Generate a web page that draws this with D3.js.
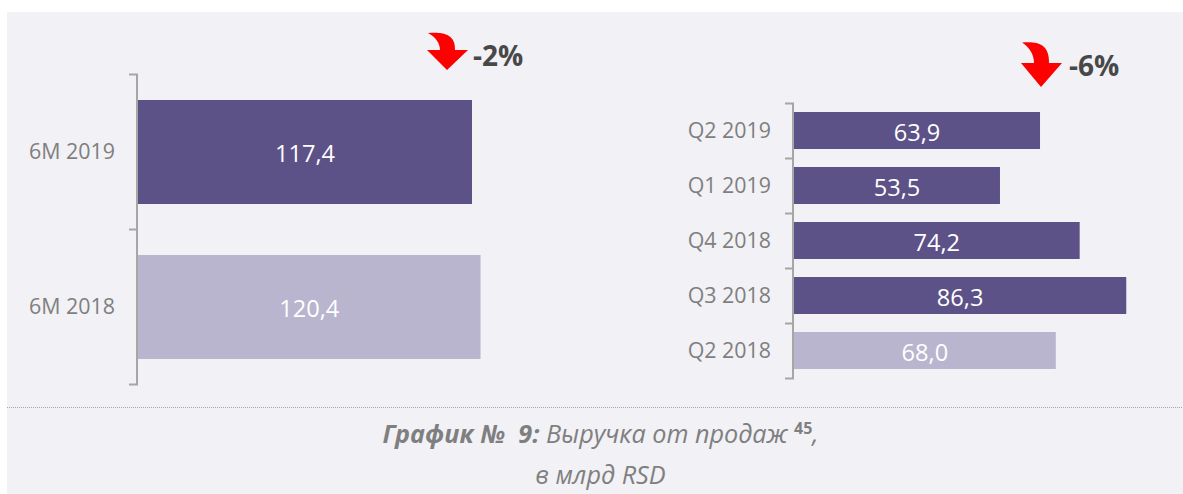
<!DOCTYPE html>
<html>
<head>
<meta charset="utf-8">
<script src="https://cdn.jsdelivr.net/npm/d3@7"></script>
<style>
  html, body { margin: 0; padding: 0; background: #fff; }
  svg { display: block; }
  text { font-family: "Open Sans", sans-serif; }
  .axis path, .axis line { stroke: #a6a6a6; stroke-width: 2; fill: none; }
  .axis text { fill: #7f7f7f; font-size: 21.4px; }
  .bar-label { fill: #fff; font-size: 23.6px; text-anchor: middle; dominant-baseline: central; }
  .delta { fill: #484848; font-size: 28px; font-weight: 700; }
  .caption { fill: #7f7f7f; font-size: 25.2px; font-style: italic; text-anchor: middle; white-space: pre; }
</style>
</head>
<body>
<svg id="chart" width="1183" height="494"></svg>
<script>
const halfCategories = ['6M 2019', '6M 2018']
const halfValues = [117.4, 120.4]
const quarterCategories = ['Q2 2019', 'Q1 2019', 'Q4 2018', 'Q3 2018', 'Q2 2018']
const quarterValues = [63.9, 53.5, 74.2, 86.3, 68.0]
const baseCategories = ['6M 2018', 'Q2 2018']

const width = 1183
const height = 494
const svg = d3.select('#chart')

svg.append('rect')
  .attr('x', 7).attr('y', 12)
  .attr('width', width - 7).attr('height', height - 12)
  .attr('fill', '#f1f1f6')

const formatValue = (v) => v.toFixed(1).replace('.', ',')

function drawPanel ({categories, values, left, pxPerUnit, top, bottom}) {
  const x = d3.scaleLinear().domain([0, 100]).range([left, left + pxPerUnit * 100])
  const y = d3.scaleBand().domain(categories).range([top, bottom])
    .paddingInner(0.33).paddingOuter(0.165)
  const g = svg.append('g')

  g.selectAll('rect')
    .data(values)
    .enter().append('rect')
    .attr('x', x(0))
    .attr('y', (d, i) => Math.round(y(categories[i])))
    .attr('width', (d) => x(d) - x(0))
    .attr('height', Math.round(y.bandwidth()))
    .attr('fill', (d, i) => baseCategories.includes(categories[i]) ? '#b9b5cf' : '#5c5288')

  g.selectAll('.bar-label')
    .data(values)
    .enter().append('text')
    .attr('class', 'bar-label')
    .attr('x', (d) => (x(0) + x(d)) / 2)
    .attr('y', (d, i) => y(categories[i]) + y.bandwidth() / 2 + 1.5)
    .text(formatValue)

  const axis = g.append('g')
    .attr('class', 'axis')
    .attr('transform', `translate(${left - 1},0.5)`)
    .call(d3.axisLeft(y).tickSize(0).tickPadding(22))
  // tick marks sit between the bands, not on them
  axis.select('.domain').remove()
  axis.append('path')
    .attr('d', `M-8,${top}H0V${bottom}H-8`)
  d3.range(1, categories.length).forEach((i) => {
    axis.append('line')
      .attr('x1', -8).attr('x2', 0)
      .attr('y1', top + y.step() * i)
      .attr('y2', top + y.step() * i)
  })
}

drawPanel({categories: halfCategories, values: halfValues, left: 138, pxPerUnit: 2.845, top: 74, bottom: 384})
drawPanel({categories: quarterCategories, values: quarterValues, left: 794, pxPerUnit: 3.85, top: 103, bottom: 378})

function drawDelta (ax, ay, scaleY, label, tx, ty) {
  svg.append('path')
    .attr('transform', `translate(${ax},${ay}) scale(1,${scaleY})`)
    .attr('fill', '#ff0000')
    .attr('d', 'M-19,-17 C-8,-18 9,-18 8,0 L21,0 L0,20 L-20,0 L-7,0 C-7,-6 -11,-13 -19,-17 Z')
  svg.append('text')
    .attr('class', 'delta')
    .attr('x', tx).attr('y', ty)
    .text(label)
}

drawDelta(447, 50, 1, '-2%', 473, 66)
drawDelta(1041, 63, 1.2, '-6%', 1069, 76)

// caption
svg.append('line')
  .attr('x1', 7).attr('x2', width)
  .attr('y1', 407.5).attr('y2', 407.5)
  .attr('stroke', '#a6a6a6')
  .attr('stroke-dasharray', '1 1')

const line1 = svg.append('text').attr('class', 'caption').attr('x', 600.5).attr('y', 443)
line1.append('tspan').attr('font-weight', 700).text('График №  9:')
line1.append('tspan').text(' Выручка от продаж ')
line1.append('tspan').attr('font-size', 16).attr('font-weight', 700).attr('font-style', 'normal').attr('dy', -9).text('45')
line1.append('tspan').attr('dy', 9).text(',')

svg.append('text').attr('class', 'caption').attr('x', 600.5).attr('y', 484).text('в млрд RSD')
</script>
</body>
</html>
